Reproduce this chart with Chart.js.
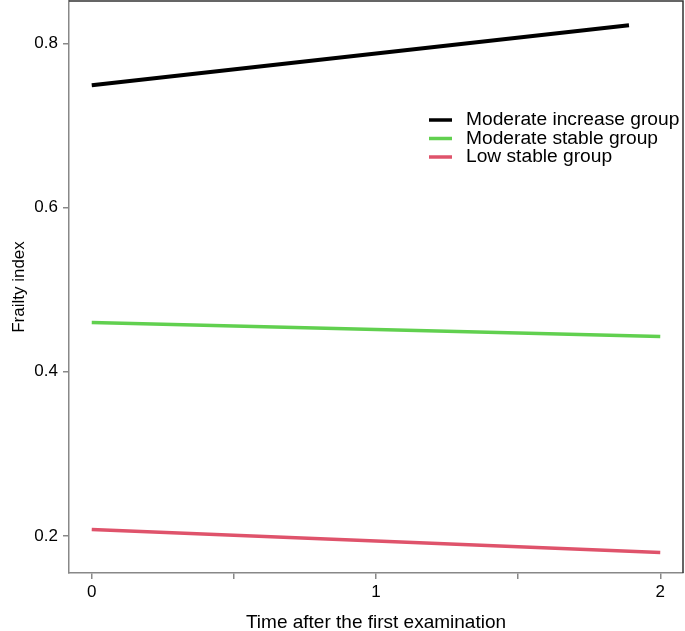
<!DOCTYPE html>
<html>
<head>
<meta charset="utf-8">
<script src="https://cdn.jsdelivr.net/npm/chart.js@4"></script>
<style>
  body { margin: 0; background: #fff; }
  #wrap { width: 685px; height: 631px; }
</style>
</head>
<body>
<div id="wrap"><canvas id="frailty-chart"></canvas></div>
<script>
// data
const groupNames = ['Moderate increase group', 'Moderate stable group', 'Low stable group'];
const groupColors = ['#000000', '#61D04F', '#DF536B'];
const timeModInc = [0, 1.89];
const fiModInc = [0.749, 0.822];
const timeModStable = [0, 2];
const fiModStable = [0.460, 0.443];
const timeLowStable = [0, 2];
const fiLowStable = [0.208, 0.180];
const xTicks = [0, 0.5, 1, 1.5, 2];
const yTicks = [0.2, 0.4, 0.6, 0.8];

const FONT = "'Liberation Sans', Arial, sans-serif";

function toPoints(xs, ys) {
  return xs.map((x, i) => ({ x: x, y: ys[i] }));
}

const seriesX = [timeModInc, timeModStable, timeLowStable];
const seriesY = [fiModInc, fiModStable, fiLowStable];

const datasets = groupNames.map((name, i) => ({
  label: name,
  data: toPoints(seriesX[i], seriesY[i]),
  borderColor: groupColors[i],
  backgroundColor: groupColors[i],
  borderWidth: i === 0 ? 4 : 3.5,
  showLine: true,
  pointRadius: 0,
  tension: 0
}));

// top/right frame lines + legend inside the plot
const framePlugin = {
  id: 'frame',
  afterDraw(chart) {
    const { ctx, chartArea: a } = chart;
    ctx.save();
    ctx.strokeStyle = '#333';
    ctx.lineWidth = 1.5;
    ctx.beginPath();
    ctx.moveTo(a.left, a.top);
    ctx.lineTo(a.right, a.top);
    ctx.lineTo(a.right, a.bottom);
    ctx.stroke();

    ctx.font = '19.2px ' + FONT;
    ctx.textBaseline = 'middle';
    ctx.fillStyle = '#000';
    const rowY = [120, 138.5, 157];
    chart.data.datasets.forEach((ds, i) => {
      ctx.strokeStyle = ds.borderColor;
      ctx.lineWidth = 3.5;
      ctx.beginPath();
      ctx.moveTo(429, rowY[i]);
      ctx.lineTo(452, rowY[i]);
      ctx.stroke();
      ctx.fillText(ds.label, 466, rowY[i]);
    });
    ctx.restore();
  }
};

new Chart(document.getElementById('frailty-chart'), {
  type: 'scatter',
  data: { datasets: datasets },
  plugins: [framePlugin],
  options: {
    responsive: true,
    maintainAspectRatio: false,
    animation: false,
    layout: { padding: { top: 1, right: 2, left: 0, bottom: 0 } },
    plugins: {
      legend: { display: false },
      tooltip: { enabled: false }
    },
    scales: {
      x: {
        type: 'linear',
        min: -0.08,
        max: 2.08,
        afterBuildTicks: (scale) => { scale.ticks = xTicks.map(v => ({ value: v })); },
        afterFit: (scale) => {
          scale.height = 58;
          scale.paddingLeft = 0;
          scale.paddingRight = 0;
        },
        ticks: {
          color: '#000',
          font: { family: FONT, size: 17 },
          padding: 3,
          maxRotation: 0,
          autoSkip: false,
          callback: (v) => (Number.isInteger(v) ? String(v) : '')
        },
        grid: { drawOnChartArea: false, drawTicks: true, tickLength: 6, color: '#888', lineWidth: 1.5 },
        border: { color: '#888', width: 1.5 },
        title: {
          display: true,
          text: 'Time after the first examination',
          color: '#000',
          font: { family: FONT, size: 19, lineHeight: 0.9 },
          padding: { top: 0, bottom: 0 }
        }
      },
      y: {
        min: 0.155,
        max: 0.8515,
        afterBuildTicks: (scale) => { scale.ticks = yTicks.map(v => ({ value: v })); },
        afterFit: (scale) => {
          scale.width = 69;
          scale.paddingTop = 0;
          scale.paddingBottom = 0;
        },
        ticks: {
          color: '#000',
          font: { family: FONT, size: 17 },
          padding: 5,
          autoSkip: false,
          callback: (v) => v.toFixed(1)
        },
        grid: { drawOnChartArea: false, drawTicks: true, tickLength: 6, color: '#888', lineWidth: 1.5 },
        border: { color: '#888', width: 1.5 },
        title: {
          display: true,
          text: 'Frailty index',
          color: '#000',
          font: { family: FONT, size: 17, lineHeight: 1 },
          padding: { top: 10.5, bottom: 0 }
        }
      }
    }
  }
});
</script>
</body>
</html>
